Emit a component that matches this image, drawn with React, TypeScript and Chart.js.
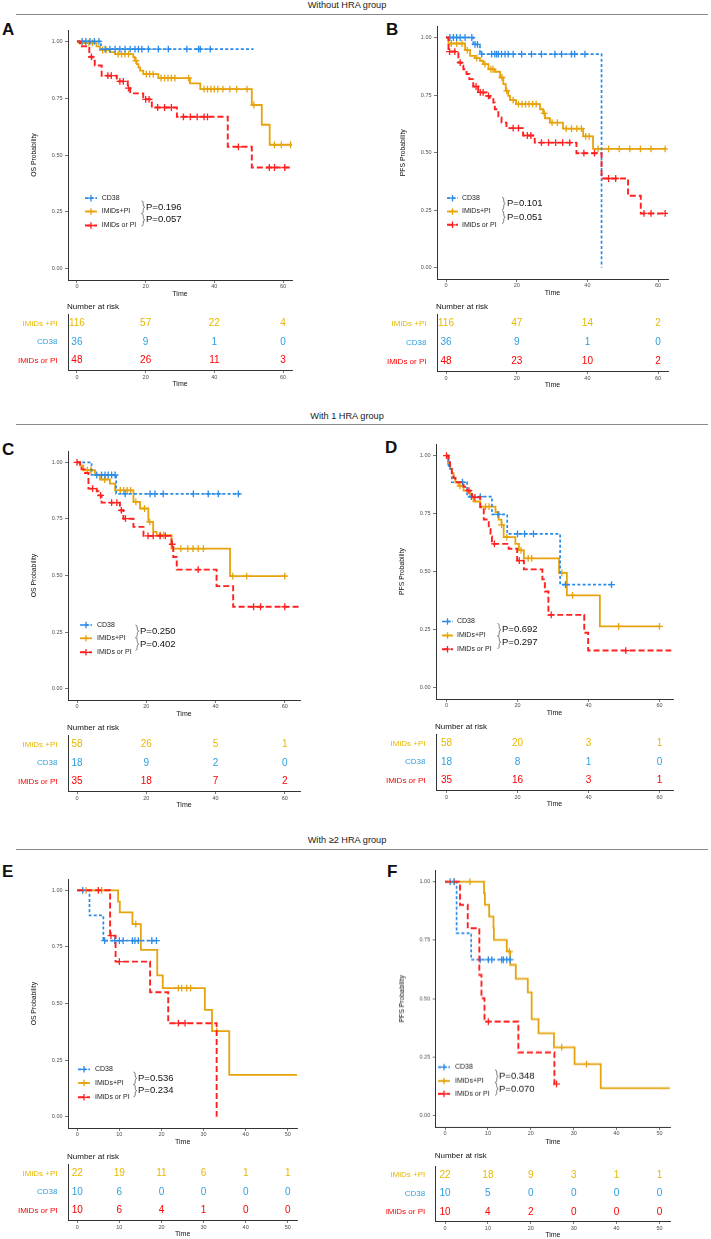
import React, { useEffect, useRef } from "react";
import { Chart, registerables } from "chart.js";

Chart.register(...registerables);

type Step = [number, number];

const FONT = '"Liberation Sans", Arial, Helvetica, sans-serif';

// ---------------- labels / categories ----------------
const LEGEND_LABELS = ["CD38", "IMiDs+PI", "IMiDs or PI"];
const RISK_ROW_LABELS = ["IMiDs +PI", "CD38", "IMiDs or PI"];
const TIME_TICKS_60 = [0, 20, 40, 60];
const TIME_TICKS_50 = [0, 10, 20, 30, 40, 50];
const PROB_TICKS = [0, 0.25, 0.5, 0.75, 1];
const HEADINGS = ["Without HRA group", "With 1 HRA group", "With \u22652 HRA group"];

// ---------------- Panel A (OS, without HRA) ----------------
const A_CD38: Step[] = [[0, 1], [7.0, 0.966], [51.4, 0.966]];
const A_CD38_CENS = [1.5, 2.6, 3.8, 5.1, 6.4, 8.2, 9.6, 11.1, 12.5, 14.0, 15.5, 16.9, 17.9, 18.9, 20.8, 23.7, 26.6, 32.0, 35.4, 35.9, 38.8];
const A_COMBO: Step[] = [[0, 1], [0.5, 0.993], [5.7, 0.978], [6.7, 0.962], [9.6, 0.953], [11.1, 0.944], [16.4, 0.93], [16.9, 0.915], [17.4, 0.9], [17.9, 0.885], [18.4, 0.871], [19.3, 0.856], [23.7, 0.838], [32.9, 0.815], [35.9, 0.79], [50.9, 0.72], [53.8, 0.633], [56.1, 0.545], [62.4, 0.545]];
const A_COMBO_CENS = [1.5, 2.5, 3.5, 4.5, 7.5, 8.5, 12, 13, 14, 15, 17.2, 20.2, 21.2, 22.2, 24.5, 25.5, 26.5, 27.5, 28.5, 32.5, 37, 38, 39, 40, 41, 42.5, 44.5, 46.5, 49.5, 51.5, 57.5, 59.5, 62.2];
const A_SINGLE: Step[] = [[0, 1], [0.9, 0.978], [3.6, 0.932], [4.6, 0.915], [5.2, 0.894], [7.2, 0.849], [11.6, 0.824], [14.8, 0.794], [15.5, 0.771], [19.3, 0.745], [21.8, 0.709], [29.1, 0.668], [43.9, 0.536], [50.9, 0.445], [62.5, 0.445]];
const A_SINGLE_CENS = [4.2, 9, 10, 12.5, 13.5, 15, 20, 21, 23.5, 25.5, 27.5, 31, 33, 35, 37, 38, 47, 56, 57.5, 60.5];
const A_P = ["P=0.196", "P=0.057"];
const A_RISK_COMBO = [116, 57, 22, 4];
const A_RISK_CD38 = [36, 9, 1, 0];
const A_RISK_SINGLE = [48, 26, 11, 3];

// ---------------- Panel B (PFS, without HRA) ----------------
const B_CD38: Step[] = [[0, 1], [7.7, 0.97], [9.6, 0.928], [44.0, 0]];
const B_CD38_CENS = [1.1, 2.1, 3.0, 4.0, 5.4, 7.3, 8.2, 8.9, 10.1, 12.9, 13.8, 14.3, 14.8, 15.7, 16.7, 17.6, 19.0, 21.4, 24.2, 27.0, 30.8, 32.7, 35.5, 36.4, 39.3];
const B_COMBO: Step[] = [[0, 1], [0.7, 0.974], [5.4, 0.945], [6.8, 0.92], [8.2, 0.91], [9.6, 0.899], [10.5, 0.884], [12.0, 0.862], [13.8, 0.851], [15.3, 0.826], [16.2, 0.797], [16.9, 0.768], [17.6, 0.746], [18.1, 0.728], [19.8, 0.71], [26.6, 0.688], [27.5, 0.67], [28.0, 0.649], [29.4, 0.63], [33.1, 0.604], [38.8, 0.57], [41.6, 0.516], [62.3, 0.516]];
const B_COMBO_CENS = [1.5, 3, 4.5, 6, 8.7, 11, 12.7, 13.3, 15.8, 17.2, 19, 20.5, 21.5, 22.5, 23.5, 24.5, 25.5, 27.8, 30, 31.5, 34, 35.5, 37, 38.3, 39.5, 40.5, 43, 46, 49, 52, 55, 58, 62];
const B_SINGLE: Step[] = [[0, 1], [0.7, 0.939], [3.5, 0.891], [4.4, 0.877], [4.9, 0.862], [5.8, 0.841], [6.6, 0.819], [7.7, 0.787], [9.1, 0.761], [11.5, 0.746], [12.4, 0.732], [13.4, 0.717], [13.8, 0.688], [14.8, 0.652], [15.7, 0.63], [17.1, 0.606], [21.8, 0.574], [25.1, 0.543], [36.9, 0.497], [44.0, 0.387], [51.5, 0.312], [55.1, 0.235], [62.3, 0.235]];
const B_SINGLE_CENS = [1, 2.5, 4, 8.5, 9.7, 10.5, 12, 19, 20.5, 23, 24, 27, 29, 31, 33, 35, 39, 42, 46, 48, 56, 58, 62];
const B_P = ["P=0.101", "P=0.051"];
const B_RISK_COMBO = [116, 47, 14, 2];
const B_RISK_CD38 = [36, 9, 1, 0];
const B_RISK_SINGLE = [48, 23, 10, 2];

// ---------------- Panel C (OS, 1 HRA) ----------------
const C_CD38: Step[] = [[0, 1], [4.2, 0.944], [11.3, 0.861], [47.1, 0.861]];
const C_CD38_CENS = [5.7, 7.1, 8.1, 9.0, 10.0, 11.0, 13.9, 21.1, 22.5, 24.9, 33.6, 37.9, 40.8, 46.6];
const C_COMBO: Step[] = [[0, 1], [0.9, 0.985], [1.8, 0.965], [5.2, 0.946], [6.6, 0.924], [9.5, 0.906], [11.0, 0.876], [16.3, 0.825], [18.2, 0.796], [20.6, 0.737], [22.0, 0.693], [23.0, 0.678], [27.3, 0.619], [44.2, 0.497], [60.5, 0.497]];
const C_COMBO_CENS = [3, 4, 8, 12.5, 13.5, 14.5, 15.5, 17, 19.5, 21, 24, 25, 30, 32, 33.5, 35, 36.5, 45, 49, 60];
const C_SINGLE: Step[] = [[0, 1], [0.9, 0.985], [1.3, 0.969], [2.3, 0.953], [3.3, 0.884], [5.7, 0.872], [6.2, 0.854], [7.1, 0.822], [12.4, 0.788], [13.4, 0.751], [16.3, 0.715], [19.2, 0.675], [27.3, 0.638], [27.8, 0.582], [28.8, 0.526], [40.3, 0.453], [45.1, 0.362], [64.4, 0.362]];
const C_SINGLE_CENS = [0, 4.5, 6.8, 10, 11.5, 12.8, 14, 20.5, 22, 24, 25.5, 27.5, 35, 51, 53, 60];
const C_P = ["P=0.250", "P=0.402"];
const C_RISK_COMBO = [58, 26, 5, 1];
const C_RISK_CD38 = [18, 9, 2, 0];
const C_RISK_SINGLE = [35, 18, 7, 2];

// ---------------- Panel D (PFS, 1 HRA) ----------------
const D_CD38: Step[] = [[0, 1], [0.6, 0.944], [1.5, 0.885], [5.8, 0.823], [12.8, 0.746], [17.1, 0.662], [32.0, 0.443], [46.8, 0.443]];
const D_CD38_CENS = [4.5, 7, 9.5, 14.5, 20, 22, 24.5, 33.5, 46.5];
const D_COMBO: Step[] = [[0, 1], [0.4, 0.964], [1.0, 0.943], [1.5, 0.924], [2.0, 0.904], [2.5, 0.885], [3.4, 0.869], [4.8, 0.849], [6.7, 0.821], [7.6, 0.802], [9.5, 0.78], [13.8, 0.756], [14.7, 0.724], [15.5, 0.701], [16.1, 0.648], [19.4, 0.619], [20.4, 0.591], [21.8, 0.557], [31.7, 0.494], [33.9, 0.397], [43.2, 0.263], [60.0, 0.263]];
const D_COMBO_CENS = [3.8, 11, 12, 15.5, 17, 21, 23, 24, 32.5, 35.5, 48.5, 60];
const D_SINGLE: Step[] = [[0, 1], [0.6, 0.971], [1.0, 0.95], [1.5, 0.924], [2.0, 0.904], [2.5, 0.885], [4.8, 0.865], [5.8, 0.849], [7.2, 0.82], [9.5, 0.777], [10.5, 0.724], [11.9, 0.684], [12.4, 0.651], [12.8, 0.619], [17.5, 0.598], [19.9, 0.547], [21.8, 0.509], [27.0, 0.466], [27.7, 0.414], [28.7, 0.313], [38.8, 0.236], [39.9, 0.159], [63.3, 0.159]];
const D_SINGLE_CENS = [0, 6.3, 8, 13.5, 20.5, 29.5, 50.5];
const D_P = ["P=0.692", "P=0.297"];
const D_RISK_COMBO = [58, 20, 3, 1];
const D_RISK_CD38 = [18, 8, 1, 0];
const D_RISK_SINGLE = [35, 16, 3, 1];

// ---------------- Panel E (OS, >=2 HRA) ----------------
const E_CD38: Step[] = [[0, 1], [2.9, 0.889], [6.2, 0.778], [18.8, 0.778]];
const E_CD38_CENS = [1.3, 6.5, 8.9, 10.0, 10.9, 13.1, 13.7, 14.5, 17.7, 18.8];
const E_COMBO: Step[] = [[0, 1], [9.7, 0.95], [10.1, 0.903], [13.1, 0.851], [15.1, 0.737], [19.0, 0.624], [20.3, 0.568], [30.3, 0.472], [32.0, 0.378], [36.1, 0.185], [52.2, 0.185]];
const E_COMBO_CENS = [2.1, 5.8, 13.9, 24.0, 24.8, 26.0, 26.9, 33.1];
const E_SINGLE: Step[] = [[0, 1], [7.8, 0.8], [9.1, 0.685], [17.3, 0.55], [21.6, 0.413], [33.1, 0]];
const E_SINGLE_CENS = [5.0, 8.0, 10.0, 24.0, 25.6];
const E_P = ["P=0.536", "P=0.234"];
const E_RISK_COMBO = [22, 19, 11, 6, 1, 1];
const E_RISK_CD38 = [10, 6, 0, 0, 0, 0];
const E_RISK_SINGLE = [10, 6, 4, 1, 0, 0];

// ---------------- Panel F (PFS, >=2 HRA) ----------------
const F_CD38: Step[] = [[0, 1], [2.7, 0.78], [6.1, 0.666], [15.2, 0.666]];
const F_CD38_CENS = [1.2, 2.1, 8.2, 10.1, 10.9, 13.2, 13.6, 14.4, 15.2];
const F_COMBO: Step[] = [[0, 1], [9.1, 0.951], [9.3, 0.901], [10.3, 0.851], [11.3, 0.801], [11.4, 0.751], [14.4, 0.701], [15.2, 0.644], [16.5, 0.584], [19.3, 0.526], [20.2, 0.411], [21.8, 0.351], [25.4, 0.291], [30.2, 0.219], [36.3, 0.116], [52.4, 0.116]];
const F_COMBO_CENS = [2.2, 5.8, 15.0, 27.2, 33.0];
const F_SINGLE: Step[] = [[0, 1], [3.5, 0.901], [5.3, 0.801], [8.0, 0.601], [8.5, 0.501], [9.2, 0.401], [17.1, 0.269], [25.5, 0.134], [26.0, 0.134]];
const F_SINGLE_CENS = [10.1, 26.0];
const F_P = ["P=0.348", "P=0.070"];
const F_RISK_COMBO = [22, 18, 9, 3, 1, 1];
const F_RISK_CD38 = [10, 5, 0, 0, 0, 0];
const F_RISK_SINGLE = [10, 4, 2, 0, 0, 0];

// ---------------- styles ----------------
const STYLE = {
  cd38: { line: "#2A8BE8", text: "#2E9FDF", dash: [3, 2.2], width: 1.7 },
  combo: { line: "#E6A30C", text: "#E7B800", dash: [] as number[], width: 1.8 },
  single: { line: "#FF2020", text: "#FF0000", dash: [6, 3], width: 1.9 },
};
const LEGEND_STYLES = [STYLE.cd38, STYLE.combo, STYLE.single];
const ROW_STYLES = [STYLE.combo, STYLE.cd38, STYLE.single];

// ---------------- layout of panels ----------------
const PANELS: any[] = [
  {
    key: "A", px: 0, pw: 355, L: 68, R: 292, T: 29.5, B: 279.5, xmin: -2.6, xmax: 62.6, xticks: TIME_TICKS_60,
    ytitle: "OS Probability", letterX: 2, letterBase: 35,
    legX1: 85, legX2: 97, legTX: 101.7, legYs: [197.7, 211, 225], braceX: 141.5, pX: 146, pYs: [206.7, 219.3], pTexts: A_P,
    tT: 314, tB: 370, narY: 307,
    cd38: A_CD38, cd38C: A_CD38_CENS, combo: A_COMBO, comboC: A_COMBO_CENS, single: A_SINGLE, singleC: A_SINGLE_CENS,
    risk: [A_RISK_COMBO, A_RISK_CD38, A_RISK_SINGLE],
  },
  {
    key: "B", px: 355, pw: 356, L: 437, R: 668, T: 25.5, B: 279, xmin: -2.55, xmax: 62.8, xticks: TIME_TICKS_60,
    ytitle: "PFS Probability", letterX: 386, letterBase: 35,
    legX1: 447, legX2: 458, legTX: 462, legYs: [197.7, 211, 224.3], braceX: 502, pX: 507, pYs: [203, 216.7], pTexts: B_P,
    tT: 314, tB: 371, narY: 307,
    cd38: B_CD38, cd38C: B_CD38_CENS, combo: B_COMBO, comboC: B_COMBO_CENS, single: B_SINGLE, singleC: B_SINGLE_CENS,
    risk: [B_RISK_COMBO, B_RISK_CD38, B_RISK_SINGLE],
  },
  {
    key: "C", px: 0, pw: 355, L: 68, R: 300, T: 451, B: 700, xmin: -2.6, xmax: 64.4, xticks: TIME_TICKS_60,
    ytitle: "OS Probability", letterX: 2, letterBase: 455,
    legX1: 80, legX2: 92, legTX: 97, legYs: [625, 638.3, 652.3], braceX: 135.5, pX: 140, pYs: [631.3, 644], pTexts: C_P,
    tT: 735, tB: 791, narY: 728,
    cd38: C_CD38, cd38C: C_CD38_CENS, combo: C_COMBO, comboC: C_COMBO_CENS, single: C_SINGLE, singleC: C_SINGLE_CENS,
    risk: [C_RISK_COMBO, C_RISK_CD38, C_RISK_SINGLE],
  },
  {
    key: "D", px: 355, pw: 356, L: 436, R: 673, T: 443.5, B: 698.5, xmin: -2.96, xmax: 63.8, xticks: TIME_TICKS_60,
    ytitle: "PFS Probability", letterX: 385, letterBase: 453,
    legX1: 442, legX2: 453, legTX: 457, legYs: [621, 635, 648.7], braceX: 497.5, pX: 502, pYs: [629.3, 641.7], pTexts: D_P,
    tT: 734, tB: 790, narY: 727,
    cd38: D_CD38, cd38C: D_CD38_CENS, combo: D_COMBO, comboC: D_COMBO_CENS, single: D_SINGLE, singleC: D_SINGLE_CENS,
    risk: [D_RISK_COMBO, D_RISK_CD38, D_RISK_SINGLE],
  },
  {
    key: "E", px: 0, pw: 355, L: 68, R: 297.3, T: 879, B: 1128.3, xmin: -2.2, xmax: 52.26, xticks: TIME_TICKS_50,
    ytitle: "OS Probability", letterX: 2, letterBase: 877,
    legX1: 78, legX2: 90, legTX: 95, legYs: [1069.3, 1083, 1097.3], braceX: 133.5, pX: 138, pYs: [1078.3, 1090.7], pTexts: E_P,
    tT: 1164, tB: 1220, narY: 1157,
    cd38: E_CD38, cd38C: E_CD38_CENS, combo: E_COMBO, comboC: E_COMBO_CENS, single: E_SINGLE, singleC: E_SINGLE_CENS,
    risk: [E_RISK_COMBO, E_RISK_CD38, E_RISK_SINGLE],
  },
  {
    key: "F", px: 355, pw: 356, L: 435.7, R: 670, T: 870.3, B: 1127, xmin: -2.17, xmax: 52.45, xticks: TIME_TICKS_50,
    ytitle: "PFS Probability", letterX: 387, letterBase: 877,
    legX1: 438, legX2: 450, legTX: 455, legYs: [1066.7, 1080.5, 1093.3], braceX: 495, pX: 499, pYs: [1075.7, 1088.3], pTexts: F_P,
    tT: 1166, tB: 1221, narY: 1156,
    cd38: F_CD38, cd38C: F_CD38_CENS, combo: F_COMBO, comboC: F_COMBO_CENS, single: F_SINGLE, singleC: F_SINGLE_CENS,
    risk: [F_RISK_COMBO, F_RISK_CD38, F_RISK_SINGLE],
  },
];

const HEADING_POS = [
  { cy: 5, lineY: 13.5 },
  { cy: 415.5, lineY: 423.8 },
  { cy: 839.5, lineY: 848.5 },
];

// ---------------- helpers ----------------
function survAt(steps: Step[], t: number): number {
  let s = steps[0][1];
  for (const [x, y] of steps) {
    if (x <= t) s = y;
    else break;
  }
  return s;
}

const TICK_FONT = { family: FONT, size: 5.5 };

function xAxis(p: any, h: number, pad: number) {
  return {
    type: "linear",
    min: p.xmin,
    max: p.xmax,
    afterFit: (s: any) => { s.height = h; },
    afterBuildTicks: (s: any) => { s.ticks = p.xticks.map((v: number) => ({ value: v })); },
    ticks: { font: TICK_FONT, color: "#4D4D4D", autoSkip: false, maxRotation: 0, minRotation: 0, padding: pad, callback: (v: any) => String(v) },
    grid: { display: true, drawOnChartArea: false, drawTicks: true, tickLength: 3, color: "#555", lineWidth: 0.8 },
    border: { display: true, color: "#333", width: 1 },
  };
}

function drawBrace(ctx: CanvasRenderingContext2D, x: number, yc: number, half: number) {
  const y1 = yc - half, y2 = yc + half, w = 3.2;
  ctx.beginPath();
  ctx.moveTo(x, y1);
  ctx.bezierCurveTo(x + w * 0.9, y1, x + w * 0.2, yc - 0.5, x + w, yc);
  ctx.bezierCurveTo(x + w * 0.2, yc + 0.5, x + w * 0.9, y2, x, y2);
  ctx.stroke();
}

// ---------------- KM chart ----------------
function KMChart({ p }: { p: any }) {
  const ref = useRef<HTMLCanvasElement>(null);
  const padTop = 14, xH = 24;
  const cLeft = p.px, cTop = p.T - padTop;
  const cW = p.pw, cH = p.B - p.T + padTop + xH;

  useEffect(() => {
    const groups = [
      { s: STYLE.single, steps: p.single, cens: p.singleC },
      { s: STYLE.cd38, steps: p.cd38, cens: p.cd38C },
      { s: STYLE.combo, steps: p.combo, cens: p.comboC },
    ];
    const datasets: any[] = [];
    groups.forEach((g) => {
      datasets.push({
        type: "scatter",
        data: g.cens.map((t: number) => ({ x: t, y: survAt(g.steps, t) })),
        pointStyle: "cross",
        pointRadius: 3.4,
        pointBorderWidth: 1.3,
        pointBorderColor: g.s.line,
        pointBackgroundColor: g.s.line,
        borderColor: g.s.line,
        showLine: false,
      });
      datasets.push({
        type: "line",
        data: g.steps.map(([x, y]: Step) => ({ x, y })),
        stepped: true,
        borderColor: g.s.line,
        borderWidth: g.s.width,
        borderDash: g.s.dash,
        pointRadius: 0,
        fill: false,
        tension: 0,
      });
    });

    const decor = {
      id: "kmDecor",
      afterDraw(chart: any) {
        const ctx: CanvasRenderingContext2D = chart.ctx;
        ctx.save();
        // y title
        ctx.save();
        ctx.translate(p.L - 34 - cLeft, (p.T + p.B) / 2 - cTop);
        ctx.rotate(-Math.PI / 2);
        ctx.fillStyle = "#111";
        ctx.font = `6.8px ${FONT}`;
        ctx.textAlign = "center";
        ctx.textBaseline = "middle";
        ctx.fillText(p.ytitle, 0, 0);
        ctx.restore();
        // x title
        ctx.fillStyle = "#111";
        ctx.font = `7px ${FONT}`;
        ctx.textAlign = "center";
        ctx.textBaseline = "middle";
        ctx.fillText("Time", (p.L + p.R) / 2 - cLeft, p.B + 14 - cTop);
        // legend
        LEGEND_LABELS.forEach((lab, i) => {
          const st = LEGEND_STYLES[i];
          const y = p.legYs[i] - cTop;
          const x1 = p.legX1 - cLeft, x2 = p.legX2 - cLeft;
          ctx.strokeStyle = st.line;
          ctx.lineWidth = st.width;
          ctx.setLineDash(st.dash);
          ctx.beginPath();
          ctx.moveTo(x1, y);
          ctx.lineTo(x2, y);
          ctx.stroke();
          ctx.setLineDash([]);
          const cx = (x1 + x2) / 2;
          ctx.lineWidth = 1.3;
          ctx.beginPath();
          ctx.moveTo(cx - 3.2, y); ctx.lineTo(cx + 3.2, y);
          ctx.moveTo(cx, y - 3.2); ctx.lineTo(cx, y + 3.2);
          ctx.stroke();
          ctx.fillStyle = "#222";
          ctx.font = `7px ${FONT}`;
          ctx.textAlign = "left";
          ctx.textBaseline = "middle";
          ctx.fillText(lab, p.legTX - cLeft, y);
        });
        // braces and p values
        ctx.strokeStyle = "#444";
        ctx.lineWidth = 0.7;
        p.pYs.forEach((py: number, i: number) => {
          drawBrace(ctx, p.braceX - cLeft, py - cTop, 6.3);
          ctx.fillStyle = "#111";
          ctx.font = `9.5px ${FONT}`;
          ctx.textAlign = "left";
          ctx.textBaseline = "middle";
          ctx.fillText(p.pTexts[i], p.pX - cLeft, py - cTop);
        });
        ctx.restore();
      },
    };

    const chart = new Chart(ref.current as HTMLCanvasElement, {
      type: "line",
      data: { datasets },
      options: {
        animation: false,
        responsive: false,
        devicePixelRatio: 1,
        events: [],
        layout: { padding: { left: 0, top: padTop, right: cW - (p.R - cLeft), bottom: 0 } },
        plugins: { legend: { display: false }, tooltip: { enabled: false }, title: { display: false } },
        scales: {
          x: xAxis(p, xH, 0.5),
          y: {
            type: "linear",
            min: -0.05,
            max: 1.05,
            afterFit: (s: any) => { s.width = p.L - cLeft; },
            afterBuildTicks: (s: any) => { s.ticks = PROB_TICKS.map((v) => ({ value: v })); },
            ticks: { font: TICK_FONT, color: "#4D4D4D", padding: 2.5, callback: (v: any) => Number(v).toFixed(2) },
            grid: { display: true, drawOnChartArea: false, drawTicks: true, tickLength: 3, color: "#555", lineWidth: 0.8 },
            border: { display: true, color: "#333", width: 1 },
          },
        },
      } as any,
      plugins: [decor],
    } as any);
    return () => chart.destroy();
  }, []);

  return (
    <canvas
      ref={ref}
      width={cW}
      height={cH}
      style={{ position: "absolute", left: cLeft, top: cTop, width: cW, height: cH }}
    />
  );
}

// ---------------- risk table ----------------
function RiskTable({ p }: { p: any }) {
  const ref = useRef<HTMLCanvasElement>(null);
  const padTop = 26, xH = 24;
  const cLeft = p.px, cTop = p.tT - padTop;
  const cW = p.pw, cH = p.tB - p.tT + padTop + xH;

  useEffect(() => {
    const datasets = RISK_ROW_LABELS.map((lab) => ({
      type: "scatter",
      data: p.xticks.map((t: number) => ({ x: t, y: lab })),
      pointRadius: 0,
      showLine: false,
    }));
    const decor = {
      id: "riskDecor",
      afterDatasetsDraw(chart: any) {
        const ctx: CanvasRenderingContext2D = chart.ctx;
        ctx.save();
        ctx.textAlign = "center";
        ctx.textBaseline = "middle";
        ctx.font = `10px ${FONT}`;
        RISK_ROW_LABELS.forEach((_, r) => {
          const meta = chart.getDatasetMeta(r);
          ctx.fillStyle = ROW_STYLES[r].text;
          meta.data.forEach((pt: any, j: number) => {
            ctx.fillText(String(p.risk[r][j]), pt.x, pt.y);
          });
        });
        ctx.fillStyle = "#111";
        ctx.textAlign = "left";
        ctx.font = `8px ${FONT}`;
        ctx.fillText("Number at risk", p.L - 1 - cLeft, p.narY - cTop);
        ctx.textAlign = "center";
        ctx.font = `7px ${FONT}`;
        ctx.fillText("Time", (p.L + p.R) / 2 - cLeft, p.tB + 14.5 - cTop);
        ctx.restore();
      },
    };
    const chart = new Chart(ref.current as HTMLCanvasElement, {
      type: "scatter",
      data: { datasets },
      options: {
        animation: false,
        responsive: false,
        devicePixelRatio: 1,
        events: [],
        layout: { padding: { left: 0, top: padTop, right: cW - (p.R - cLeft), bottom: 0 } },
        plugins: { legend: { display: false }, tooltip: { enabled: false } },
        scales: {
          x: xAxis(p, xH, 1),
          y: {
            type: "category",
            labels: RISK_ROW_LABELS,
            offset: true,
            afterFit: (s: any) => { s.width = p.L - cLeft; },
            ticks: {
              font: { family: FONT, size: 8 },
              color: (c: any) => (ROW_STYLES[c.index] ? ROW_STYLES[c.index].text : "#000"),
              padding: 2.5,
              autoSkip: false,
            },
            grid: { display: false },
            border: { display: true, color: "#333", width: 1 },
          },
        },
      } as any,
      plugins: [decor],
    } as any);
    return () => chart.destroy();
  }, []);

  return (
    <canvas
      ref={ref}
      width={cW}
      height={cH}
      style={{ position: "absolute", left: cLeft, top: cTop, width: cW, height: cH }}
    />
  );
}

// ---------------- App ----------------
export default function App() {
  useEffect(() => {
    document.body.style.margin = "0";
  }, []);
  return (
    <div
      style={{
        position: "absolute",
        left: 0,
        top: 0,
        width: 711,
        height: 1239,
        overflow: "hidden",
        background: "#fff",
        fontFamily: FONT,
      }}
    >
      {HEADINGS.map((h, i) => (
        <React.Fragment key={h}>
          <div
            style={{
              position: "absolute",
              left: 247,
              width: 200,
              top: HEADING_POS[i].cy - 6,
              height: 12,
              lineHeight: "12px",
              fontSize: 9.2,
              textAlign: "center",
              color: "#1a1a1a",
              whiteSpace: "nowrap",
            }}
          >
            {h}
          </div>
          <div
            style={{
              position: "absolute",
              left: 16,
              width: 692,
              top: HEADING_POS[i].lineY,
              height: 0,
              borderTop: "1.3px solid #8a8a8a",
            }}
          />
        </React.Fragment>
      ))}
      {PANELS.map((p) => (
        <React.Fragment key={p.key}>
          <div
            style={{
              position: "absolute",
              left: p.letterX,
              top: p.letterBase - 14.4,
              fontSize: 17,
              lineHeight: "17px",
              fontWeight: "bold",
              color: "#111",
            }}
          >
            {p.key}
          </div>
          <KMChart p={p} />
          <RiskTable p={p} />
        </React.Fragment>
      ))}
    </div>
  );
}
